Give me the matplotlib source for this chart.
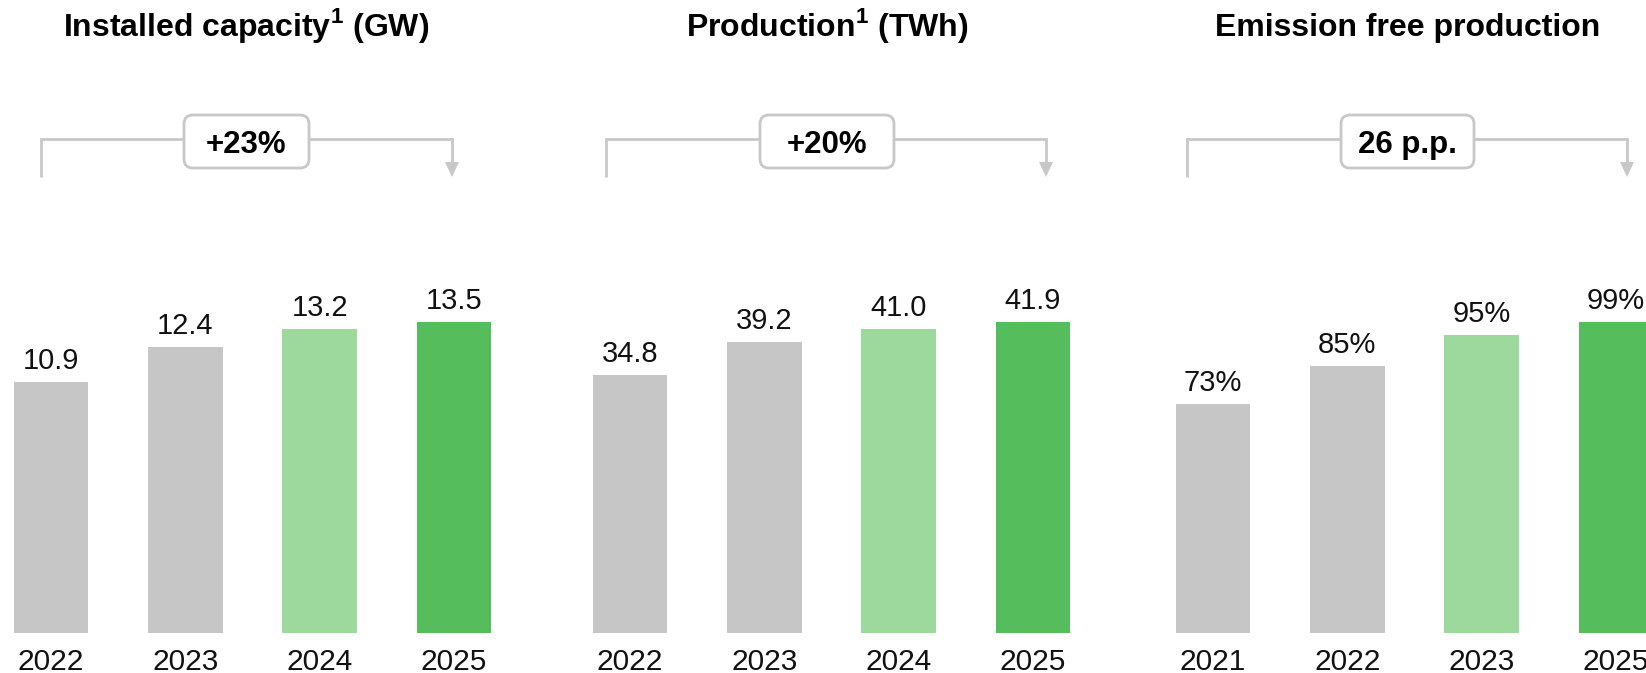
import matplotlib.pyplot as plt
from matplotlib.patches import FancyBboxPatch

plt.rcParams['font.family'] = ['Liberation Sans', 'DejaVu Sans']
plt.rcParams['mathtext.fontset'] = 'custom'
plt.rcParams['mathtext.rm'] = 'Liberation Sans'
plt.rcParams['mathtext.bf'] = 'Liberation Sans:bold'

# data for the three panels
capacity_years = ['2022', '2023', '2024', '2025']
capacity_gw = [10.9, 12.4, 13.2, 13.5]

production_years = ['2022', '2023', '2024', '2025']
production_twh = [34.8, 39.2, 41.0, 41.9]

emission_free_years = ['2021', '2022', '2023', '2025']
emission_free_pct = [73, 85, 95, 99]

titles = [r'Installed capacity$^{\mathbf{1}}$ (GW)', r'Production$^{\mathbf{1}}$ (TWh)',
          'Emission free production']
growth_labels = ['+23%', '+20%', '26 p.p.']

GREY = '#c6c6c6'
LIGHT_GREEN = '#9dd99d'
GREEN = '#55bd5c'
LINE = '#c8c8c8'
bar_colors = [GREY, GREY, LIGHT_GREEN, GREEN]

W, H = 1646, 673
fig = plt.figure(figsize=(W / 100, H / 100), dpi=100)


def px_axes(left, right, bottom, top):
    return fig.add_axes([left / W, (H - bottom) / H, (right - left) / W, (bottom - top) / H])


# (axes px left, right, first bar centre px)
STEP, BAR_W = 134.3, 74.5
panels = [
    (0, 540, 51),
    (540, 1120, 630),
    (1120, 1646, 1213),
]
series = [
    (capacity_years, capacity_gw, lambda v: f'{v:.1f}'),
    (production_years, production_twh, lambda v: f'{v:.1f}'),
    (emission_free_years, emission_free_pct, lambda v: f'{v:d}%'),
]

for (left, right, c0), (years, vals, fmt) in zip(panels, series):
    ax = px_axes(left, right, 633, 322)
    xs = list(range(len(vals)))
    ax.bar(xs, vals, width=BAR_W / STEP, color=bar_colors, linewidth=0)
    ax.set_xlim((left - c0) / STEP, (right - c0) / STEP)
    ax.set_ylim(0, max(vals))
    for x, v in zip(xs, vals):
        ax.annotate(fmt(v), (x, v), xytext=(0, 9.4), textcoords='offset points',
                    ha='center', va='baseline', fontsize=21, color='#111111',
                    annotation_clip=False)
    ax.set_xticks(xs, years)
    ax.tick_params(axis='x', length=0, pad=10.5, labelsize=21.5, labelcolor='#111111')
    ax.set_yticks([])
    for s in ax.spines.values():
        s.set_visible(False)

# overlay for titles and growth brackets, in pixel coordinates
ov = fig.add_axes([0, 0, 1, 1], zorder=5)
ov.set_xlim(0, W)
ov.set_ylim(H, 0)
ov.axis('off')
ov.patch.set_alpha(0)

# bracket: left x, right x, box left, box right
brackets = [
    (41, 452, 184, 309),
    (606, 1046, 760, 894),
    (1187, 1627, 1341, 1474),
]
for (bl, br, xl, xr), lab, t in zip(brackets, growth_labels, titles):
    cx = (xl + xr) / 2
    ov.text(cx, 36, t, ha='center', va='baseline', fontsize=23, fontweight='bold')
    ov.plot([bl, bl, br, br], [177, 139, 139, 163], color=LINE, lw=2.0,
            solid_joinstyle='miter', solid_capstyle='butt')
    ov.fill([br - 7, br + 7, br], [162, 162, 177], color=LINE, lw=0)
    box = FancyBboxPatch((xl, 115), xr - xl, 53, boxstyle='round,pad=0,rounding_size=9',
                         facecolor='white', edgecolor=LINE, lw=2.0, zorder=3)
    ov.add_patch(box)
    ov.text(cx, 153, lab, ha='center', va='baseline', fontsize=22.5,
            fontweight='bold', zorder=4)

fig.savefig('out.png', dpi=100)
